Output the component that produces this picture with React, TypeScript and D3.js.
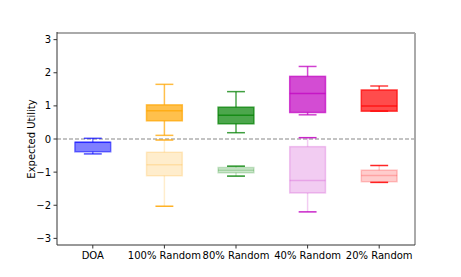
import React from "react"
import * as d3 from "d3"

const width = 461
const height = 277
const margin = { top: 33, right: 46, bottom: 32, left: 57 }

const categories = ["DOA", "100% Random", "80% Random", "40% Random", "20% Random"]
const colors = ["#0000ff", "#ffa500", "#008000", "#c000c0", "#ff0000"]
const yTicks = [-3, -2, -1, 0, 1, 2, 3]

// [low whisker, q1, median, q3, high whisker]
const positiveStats = [
  [-0.45, -0.385, -0.1, -0.1, 0.02],
  [0.11, 0.55, 0.85, 1.03, 1.65],
  [0.19, 0.46, 0.72, 0.96, 1.43],
  [0.73, 0.8, 1.37, 1.89, 2.19],
  [0.84, 0.84, 1.0, 1.48, 1.6],
]
const negativeStats = [
  null,
  [-2.03, -1.11, -0.78, -0.4, -0.03],
  [-1.12, -1.02, -0.94, -0.86, -0.82],
  [-2.2, -1.63, -1.25, -0.23, 0.04],
  [-1.31, -1.29, -1.1, -0.94, -0.8],
]

const Box = ({ s, cx, bw, y, color, alpha, capAlpha }) => {
  const [lo, q1, med, q3, hi] = s
  const capW = bw / 2
  const st = { stroke: color, strokeOpacity: alpha, strokeWidth: 1.5 }
  const capSt = { stroke: color, strokeOpacity: capAlpha, strokeWidth: 1.5 }
  return (
    <g>
      <line x1={cx} x2={cx} y1={y(q3)} y2={y(hi)} style={st} />
      <line x1={cx} x2={cx} y1={y(q1)} y2={y(lo)} style={st} />
      <line x1={cx - capW / 2} x2={cx + capW / 2} y1={y(hi)} y2={y(hi)} style={capSt} />
      <line x1={cx - capW / 2} x2={cx + capW / 2} y1={y(lo)} y2={y(lo)} style={capSt} />
      <rect
        x={cx - bw / 2}
        width={bw}
        y={y(q3)}
        height={Math.max(y(q1) - y(q3), 0.5)}
        style={{ fill: color, fillOpacity: alpha, ...st }}
      />
      <line x1={cx - bw / 2} x2={cx + bw / 2} y1={y(med)} y2={y(med)} style={st} />
    </g>
  )
}

export default function App() {
  const x = d3.scaleLinear().domain([-0.5, 4.5]).range([margin.left, width - margin.right])
  const y = d3.scaleLinear().domain([-3.2, 3.2]).range([height - margin.bottom, margin.top])
  const bw = x(0.5) - x(0)
  const font = { fontFamily: "DejaVu Sans", fontSize: 10, fill: "#000" }
  const x0 = margin.left
  const x1 = width - margin.right
  const y0 = margin.top
  const y1 = height - margin.bottom

  return (
    <svg width={width} height={height} style={{ position: "absolute", left: 0, top: 0, background: "#fff" }}>
      <line x1={x0} x2={x1} y1={y(0)} y2={y(0)} stroke="#888" strokeWidth={1.2} strokeDasharray="4,2" />
      {categories.map((c, i) => (
        <g key={c}>
          {negativeStats[i] && (
            <Box s={negativeStats[i]} cx={x(i)} bw={bw} y={y} color={colors[i]} alpha={0.2} capAlpha={0.85} />
          )}
          <Box
            s={positiveStats[i]}
            cx={x(i)}
            bw={bw}
            y={y}
            color={colors[i]}
            alpha={i === 0 ? 0.5 : 0.7}
            capAlpha={i === 0 ? 0.7 : 0.75}
          />
        </g>
      ))}
      <line x1={x0} x2={x1} y1={y0} y2={y0} stroke="#aaa" strokeWidth={2} />
      <line x1={x1} x2={x1} y1={y0} y2={y1} stroke="#aaa" strokeWidth={2} />
      <line x1={x0} x2={x0} y1={y0 - 1} y2={y1} stroke="#333" strokeWidth={1} />
      <line x1={x0} x2={x1} y1={y1} y2={y1} stroke="#333" strokeWidth={1} />
      {yTicks.map(t => (
        <g key={t}>
          <line x1={x0 - 3.5} x2={x0} y1={y(t)} y2={y(t)} stroke="#333" />
          <text x={x0 - 6} y={y(t)} dy="0.35em" textAnchor="end" style={font}>
            {t < 0 ? `\u2212${-t}` : t}
          </text>
        </g>
      ))}
      {categories.map((c, i) => (
        <g key={c}>
          <line x1={x(i)} x2={x(i)} y1={y1} y2={y1 + 3.5} stroke="#333" />
          <text x={x(i)} y={y1 + 14} textAnchor="middle" style={font}>
            {c}
          </text>
        </g>
      ))}
      <text
        transform={`translate(${31},${(y0 + y1) / 2}) rotate(-90)`}
        dy="0.35em"
        textAnchor="middle"
        style={font}
      >
        Expected Utility
      </text>
    </svg>
  )
}
